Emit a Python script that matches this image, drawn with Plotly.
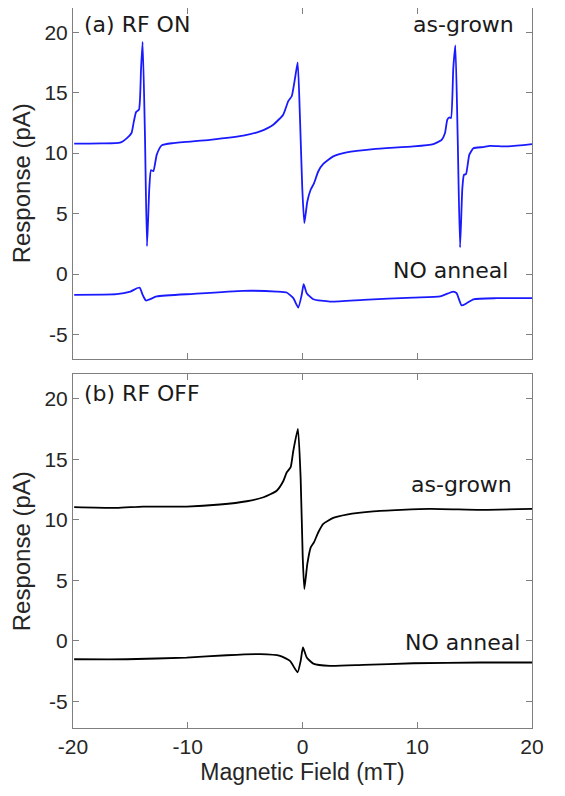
import plotly.graph_objects as go

# (a) RF ON - as-grown
on_grown_x = [-19.9, -17.5, -15.9, -15.3, -14.9, -14.7, -14.5, -14.25, -14.07, -13.93, -13.73, -13.55,
              -13.35, -13.2, -13.0, -12.7, -12.27, -11.26, -8.06, -5.16, -3.7, -2.55, -1.67, -1.24, -0.94,
              -0.65, -0.42, -0.22, -0.02, 0.16, 0.42, 0.71, 1.0, 1.38, 1.81, 2.68, 3.85, 6.17, 9.66, 11.4,
              12.13, 12.42, 12.62, 12.8, 12.94, 13.14, 13.32, 13.52, 13.73, 13.93, 14.07, 14.25, 14.54,
              14.9, 15.75, 16.34, 17.8, 20.0]
on_grown_y = [10.78, 10.8, 10.86, 11.24, 11.66, 12.6, 13.4, 13.6, 17.0, 19.2, 11.5, 2.3,
              7.1, 8.6, 8.5, 9.87, 10.64, 10.83, 11.1, 11.44, 11.8, 12.35, 13.2, 14.3, 14.7,
              16.2, 17.5, 12.9, 7.1, 4.2, 6.0, 6.97, 7.5, 8.5, 9.1, 9.73, 10.06, 10.33, 10.55, 10.75,
              11.1, 11.66, 12.76, 12.95, 12.9, 17.0, 18.9, 11.5, 2.2, 7.1, 8.2, 8.26, 9.87,
              10.4, 10.5, 10.6, 10.55, 10.75]

# (a) RF ON - NO anneal
on_anneal_x = [-19.9, -16.2, -15.0, -14.2, -13.93, -13.64, -12.7, -9.5, -5.16, -2.25, -1.38, -0.8, -0.37,
               -0.07, 0.1, 0.37, 0.94, 2.4, 5.3, 9.66, 12.0, 13.14, 13.43, 13.87, 14.3, 14.9, 16.9, 20.0]
on_anneal_y = [-1.72, -1.67, -1.45, -1.12, -1.72, -2.19, -1.86, -1.64, -1.39, -1.45, -1.53, -2.0, -2.77,
               -1.72, -0.84, -1.59, -2.09, -2.28, -2.14, -1.95, -1.86, -1.45, -1.59, -2.6, -2.42, -2.09, -2.0, -2.0]

# (b) RF OFF - as-grown
off_grown_x = [-19.9, -16.2, -13.9, -10.1, -7.2, -4.86, -3.4, -2.25, -1.67, -1.38, -1.03, -0.8, -0.4,
               -0.16, 0.02, 0.16, 0.42, 0.71, 1.0, 1.38, 1.81, 2.68, 3.85, 6.17, 11.1, 15.5, 20.0]
off_grown_y = [11.04, 10.98, 11.09, 11.09, 11.26, 11.53, 11.86, 12.4, 13.2, 13.9, 14.35, 15.7, 17.5,
               13.4, 6.9, 4.28, 6.35, 7.7, 8.14, 8.97, 9.66, 10.15, 10.43, 10.7, 10.9, 10.82, 10.9]

# (b) RF OFF - NO anneal
off_anneal_x = [-19.9, -15.3, -10.1, -6.6, -3.7, -1.96, -1.09, -0.43, -0.16, 0.04, 0.37, 0.94, 2.4,
                5.3, 9.66, 15.5, 20.0]
off_anneal_y = [-1.52, -1.52, -1.38, -1.19, -1.1, -1.24, -1.66, -2.6, -1.66, -0.55, -1.38, -1.88, -2.07,
                -1.99, -1.85, -1.79, -1.79]

xticks = [-20, -10, 0, 10, 20]
xtick_text = ['-20', '-10', '0', '10', '20']
yticks = [-5, 0, 5, 10, 15, 20]
ytick_text = ['-5', '0', '5', '10', '15', '20']

blue = '#1a1aff'
line_kw = dict(width=1.8, shape='spline', smoothing=0.5)
fig = go.Figure()
fig.add_trace(go.Scatter(x=on_grown_x, y=on_grown_y, mode='lines', line=dict(color=blue, **line_kw), xaxis='x', yaxis='y'))
fig.add_trace(go.Scatter(x=on_anneal_x, y=on_anneal_y, mode='lines', line=dict(color=blue, **line_kw), xaxis='x', yaxis='y'))
fig.add_trace(go.Scatter(x=off_grown_x, y=off_grown_y, mode='lines', line=dict(color='black', **line_kw), xaxis='x2', yaxis='y2'))
fig.add_trace(go.Scatter(x=off_anneal_x, y=off_anneal_y, mode='lines', line=dict(color='black', **line_kw), xaxis='x2', yaxis='y2'))

tick_font = dict(family='Liberation Sans, Arial', size=21, color='#262626')
title_font = dict(family='Liberation Sans, Arial', size=24, color='#262626')
common = dict(showline=True, linecolor='#7f7f7f', linewidth=1, mirror='ticks', ticks='inside',
              ticklen=6, tickcolor='#7f7f7f', showgrid=False, zeroline=False, tickfont=tick_font)

# page body has an 8px margin, so the figure is drawn 8px in and down
fig.update_layout(
    width=557, height=788,
    margin=dict(l=65, r=33, t=0, b=68, autoexpand=False),
    plot_bgcolor='white', paper_bgcolor='white',
    showlegend=False,
    xaxis=dict(domain=[0, 1], range=[-20, 20], tickvals=xticks, showticklabels=False, anchor='y', **common),
    yaxis=dict(domain=[0.513, 1], range=[-7, 22], tickvals=yticks, ticktext=ytick_text, anchor='x',
               title=dict(text='Response (pA)', font=title_font, standoff=8), **common),
    xaxis2=dict(domain=[0, 1], range=[-20, 20], tickvals=xticks, ticktext=xtick_text, anchor='y2',
                title=dict(text='Magnetic Field (mT)', font=dict(title_font, size=23), standoff=6), **common),
    yaxis2=dict(domain=[0, 0.491], range=[-7.2, 22], tickvals=yticks, ticktext=ytick_text, anchor='x2',
                title=dict(text='Response (pA)', font=title_font, standoff=8), **common),
)

ann_font = dict(family='DejaVu Sans', size=22, color='#1a1a1a')
labels = [
    ('(a) RF ON', -19.2, 20.6, 'left', 'x', 'y'),
    ('as-grown', 18.6, 20.6, 'right', 'x', 'y'),
    ('NO anneal', 18.1, 0.3, 'right', 'x', 'y'),
    ('(b) RF OFF', -19.2, 20.4, 'left', 'x2', 'y2'),
    ('as-grown', 18.4, 12.9, 'right', 'x2', 'y2'),
    ('NO anneal', 19.1, -0.1, 'right', 'x2', 'y2'),
]
for text, xv, yv, anchor, xr, yr in labels:
    fig.add_annotation(text=text, x=xv, y=yv, xref=xr, yref=yr, xanchor=anchor, yanchor='middle',
                       showarrow=False, font=ann_font)

fig.write_html("out.html")
